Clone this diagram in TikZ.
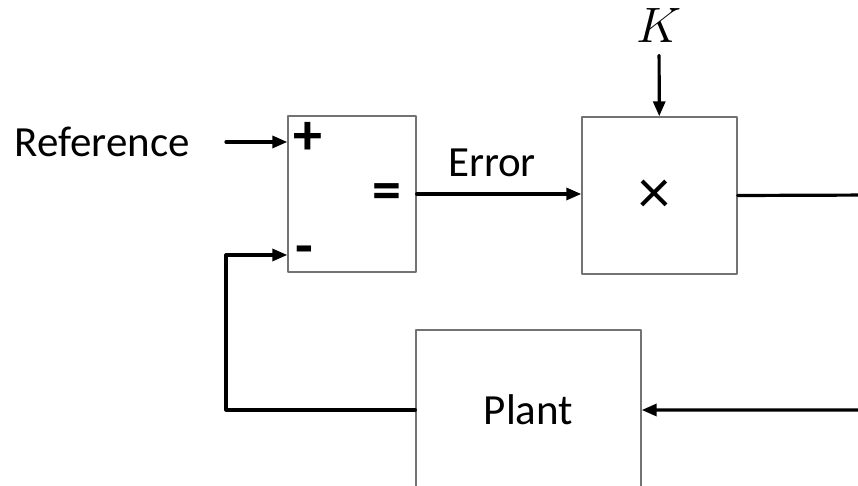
\documentclass[tikz,border=0pt]{standalone}
\usepackage{fontspec}
\setmainfont{Carlito}
\usetikzlibrary{arrows.meta}

\tikzset{
	block/.style = {draw=black!55, line width=0.7pt, fill=white, inner sep=0pt},
	signal/.style = {line width=1.6pt},
	sign/.style = {font=\bfseries\fontsize{29}{32}\selectfont},
}

\begin{document}
\begin{tikzpicture}[x = 0.5pt, y = -0.5pt, line cap=round, line join=round, >={Triangle[length=7.5pt, width=6pt]}]
			\useasboundingbox (0,0) rectangle (858,486);
			\clip (0,0) rectangle (858,486);
			\fontsize{21.5}{25}\selectfont
			% blocks
			\node[block, minimum width=64pt, minimum height=78pt] (sum) at (352,194) {};
			\node[block, minimum width=77.5pt, minimum height=78.5pt] (gain) at (659.5,195.5) {};
			\node[block, minimum width=112.5pt, minimum height=80pt] (plant) at (528.5,410) {Plant};
			% signs
			\node[sign] (plus) at (308,138) {+};
			\node[sign] (minus) at (304,256) {-};
			\node[sign] (equal) at (387,197) {=};
			\node[font=\fontsize{32}{36}\selectfont] (times) at (654,197) {×};
			% symbols
			\node (ref) at (102,142) {Reference};
			\node[inner sep=6pt, font=\fontsize{23}{28}\selectfont] (k) at (659,26) {$K$};
			\coordinate (refin) at (226,142);
			\coordinate (fb) at (226,255);
			\coordinate (corner) at (880,195);
			% signals
			\draw[signal, ->] (refin) -- (sum.west |- refin);
			\draw[signal, ->] (k) -- (gain);
			\draw[signal, ->] (sum.east) -- (gain.west |- sum.east) node[midway, above = 0.5pt, xshift = -3.5pt] {Error};
			\draw[signal, ->] (gain.east) -- (corner) |- (plant.east);
			\draw[signal, ->] (plant.west) -| (fb) -- (sum.west |- fb);
		\end{tikzpicture}
\end{document}
